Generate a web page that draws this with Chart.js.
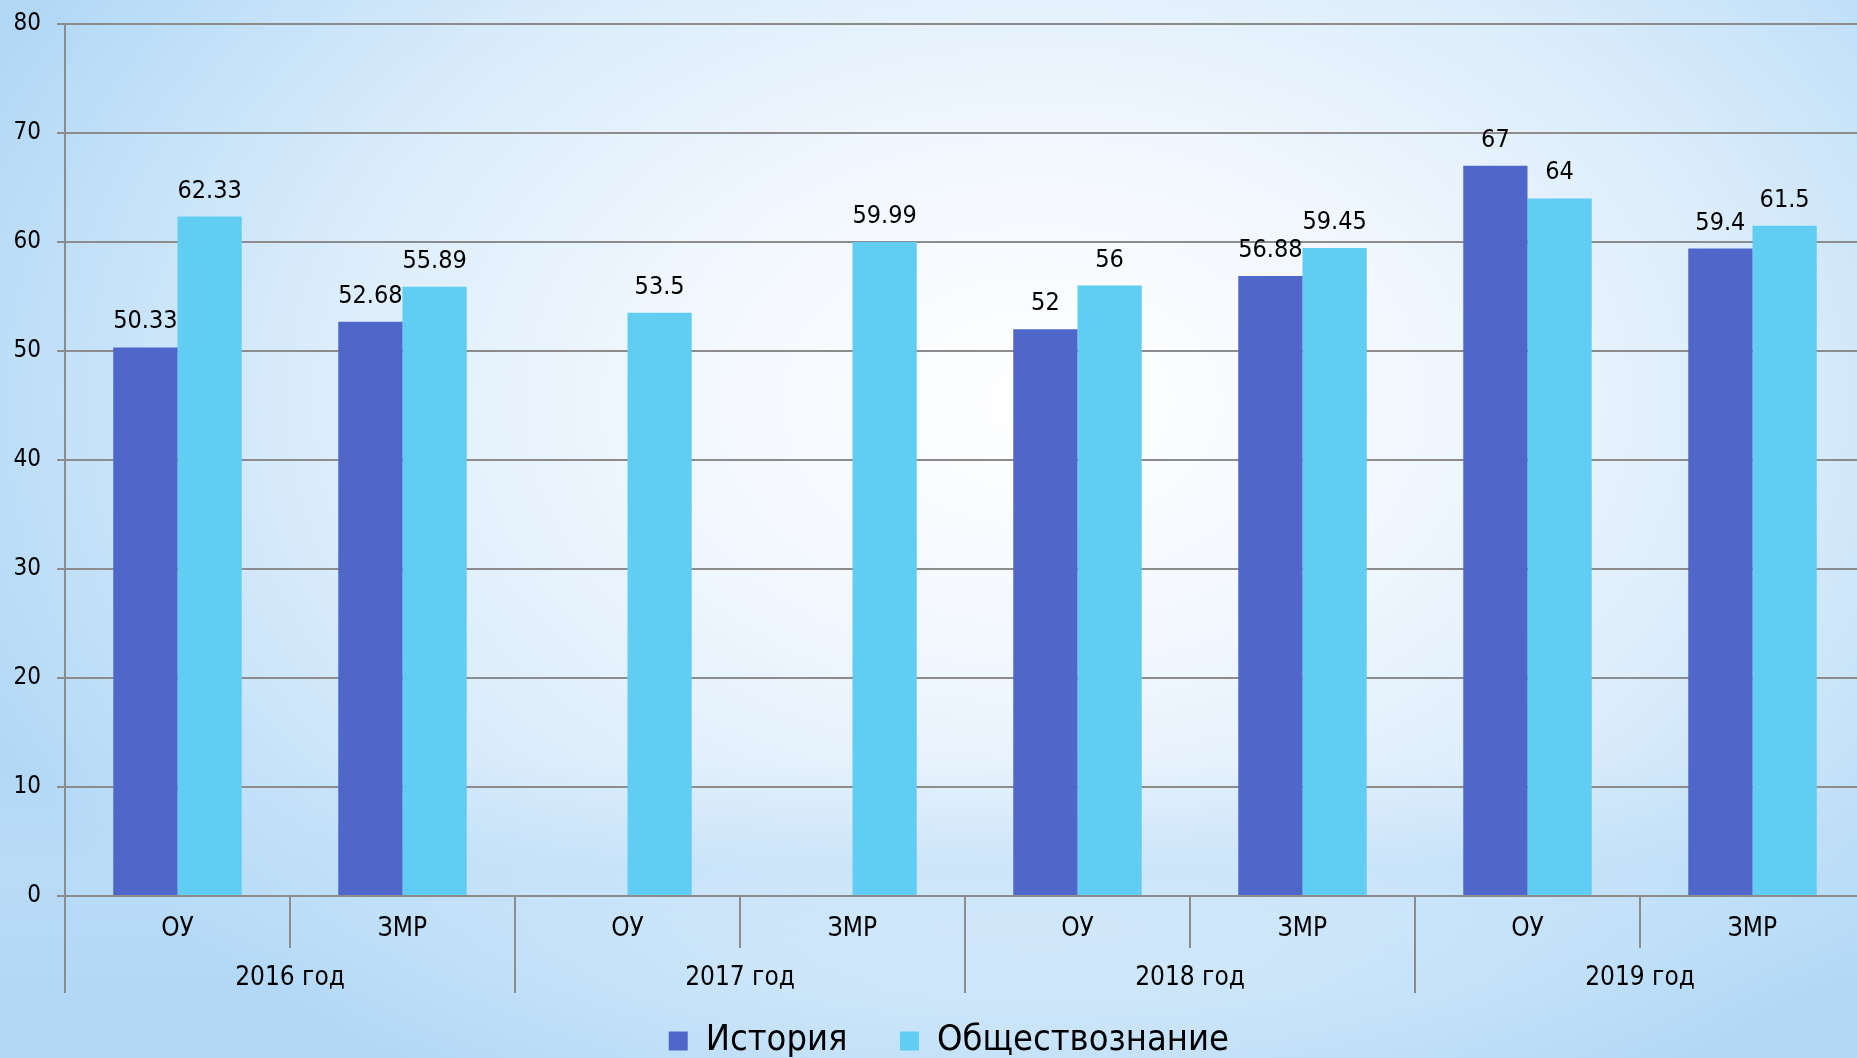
<!DOCTYPE html>
<html lang="ru">
<head>
<meta charset="utf-8">
<title>История и обществознание</title>
<script src="https://cdn.jsdelivr.net/npm/chart.js@4.4.1/dist/chart.umd.min.js"></script>
<style>
  html, body {
    margin: 0;
    padding: 0;
    width: 1857px;
    height: 1058px;
    overflow: hidden;
  }
  body {
    background:
      linear-gradient(to bottom, rgba(190,222,248,0) 72%, rgba(190,222,248,0.55) 82%, rgba(190,222,248,0) 94%),
      radial-gradient(ellipse 62% 75% at 56% 38%, #ffffff 0%, #f3f8fe 30%, #dcedfb 62%, #bfdff8 88%, #b2d8f6 100%);
  }
  /* plot runs a little past the right edge, as in the original slide */
  #wrap {
    position: relative;
    width: 1865px;
    height: 1058px;
  }
</style>
</head>
<body>
<div id="wrap"><canvas id="chart"></canvas></div>
<script>
const categories = ['ОУ', 'ЗМР', 'ОУ', 'ЗМР', 'ОУ', 'ЗМР', 'ОУ', 'ЗМР'];
const years = ['2016 год', '2017 год', '2018 год', '2019 год'];
const historyValues = [50.33, 52.68, null, null, 52, 56.88, 67, 59.4];
const socialValues = [62.33, 55.89, 53.5, 59.99, 56, 59.45, 64, 61.5];
const seriesNames = ['История', 'Обществознание'];
const yMin = 0;
const yMax = 80;
const yStep = 10;

const gridColor = '#8c8c8c';
const font = 'DejaVu Sans Condensed';

// value labels above every bar
const barLabels = {
    id: 'barLabels',
    afterDatasetsDraw(chart) {
        const ctx = chart.ctx;
        ctx.save();
        ctx.font = '25px "' + font + '"';
        ctx.fillStyle = '#000';
        ctx.textAlign = 'center';
        ctx.textBaseline = 'alphabetic';
        chart.data.datasets.forEach((ds, i) => {
            const meta = chart.getDatasetMeta(i);
            meta.data.forEach((bar, j) => {
                const v = ds.data[j];
                if (v === null || v === undefined) return;
                ctx.fillText(String(v), bar.x, bar.y - 19);
            });
        });
        ctx.restore();
    }
};

const ctx = document.getElementById('chart').getContext('2d');
const myChart = new Chart(ctx, {
    type: 'bar',
    data: {
        labels: categories,
        datasets: [{
            label: seriesNames[0],
            data: historyValues,
            backgroundColor: '#4f67c9',
            categoryPercentage: 0.571,
            barPercentage: 1.0
        }, {
            label: seriesNames[1],
            data: socialValues,
            backgroundColor: '#61cdf3',
            categoryPercentage: 0.571,
            barPercentage: 1.0
        }]
    },
    options: {
        responsive: true,
        maintainAspectRatio: false,
        animation: false,
        layout: { padding: { top: 24, left: 0, right: 0, bottom: -11 } },
        plugins: {
            tooltip: { enabled: false },
            legend: {
                position: 'bottom',
                fullSize: false,
                labels: {
                    font: { family: font, size: 36 },
                    color: '#000',
                    boxWidth: 19,
                    boxHeight: 19,
                    padding: 12,
                    generateLabels(chart) {
                        const items = Chart.defaults.plugins.legend.labels.generateLabels(chart);
                        items.forEach((it, i) => {
                            it.lineWidth = 0;
                            it.text = it.text + (i === 0 ? '\u2003\u2005' : '\u2003');
                        });
                        return items;
                    }
                }
            }
        },
        scales: {
            y: {
                min: yMin,
                max: yMax,
                ticks: {
                    stepSize: yStep,
                    color: '#000',
                    font: { family: font, size: 24 },
                    padding: 16
                },
                grid: {
                    color: gridColor,
                    lineWidth: 2,
                    tickLength: 8
                },
                border: { color: gridColor, width: 2 },
                afterFit(scale) {
                    scale.width = 65;
                    scale.paddingTop = 0;
                    scale.paddingBottom = 0;
                }
            },
            x: {
                position: 'bottom',
                ticks: {
                    color: '#000',
                    font: { family: font, size: 26 },
                    padding: -34
                },
                grid: {
                    offset: true,
                    drawOnChartArea: false,
                    color: gridColor,
                    lineWidth: 2,
                    tickLength: 52
                },
                border: { color: gridColor, width: 2 },
                afterFit(scale) { scale.height = 52; }
            },
            x2: {
                type: 'category',
                position: 'bottom',
                labels: years,
                offset: true,
                ticks: {
                    color: '#000',
                    font: { family: font, size: 26 },
                    padding: -30
                },
                grid: {
                    offset: true,
                    drawOnChartArea: false,
                    color: gridColor,
                    lineWidth: 2,
                    tickLength: 45
                },
                border: { display: false },
                afterFit(scale) { scale.height = 63; }
            }
        }
    },
    plugins: [barLabels]
});
</script>
</body>
</html>
